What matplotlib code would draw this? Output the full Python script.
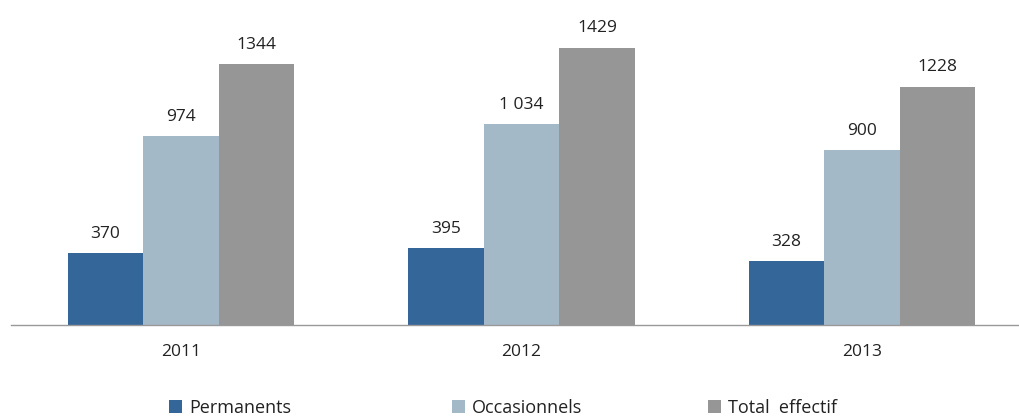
import matplotlib
matplotlib.use("Agg")
import matplotlib.pyplot as plt
import numpy as np

years = ["2011", "2012", "2013"]
series_names = ["Permanents", "Occasionnels", "Total  effectif"]
permanents = [370, 395, 328]
occasionnels = [974, 1034, 900]
total = [1344, 1429, 1228]
labels_perm = ["370", "395", "328"]
labels_occ = ["974", "1 034", "900"]
labels_tot = ["1344", "1429", "1228"]
colors = ["#346699", "#A3B9C8", "#969696"]

plt.rcParams['font.family'] = ['Open Sans', 'DejaVu Sans']

W, H = 1019, 418
fig = plt.figure(figsize=(W / 100, H / 100), dpi=100)
cat = 340.5
ax = fig.add_axes([10.75 / W, 93 / H, 3 * cat / W, (325 - 14.3) / H])

x = np.arange(len(years))
w = 0.222
data = [permanents, occasionnels, total]
labs = [labels_perm, labels_occ, labels_tot]
handles = []
for i, (vals, lab, c, name) in enumerate(zip(data, labs, colors, series_names)):
    bars = ax.bar(x + (i - 1) * w, vals, width=w, color=c, label=name)
    handles.append(bars)
    for b, t in zip(bars, lab):
        ax.annotate(t, (b.get_x() + b.get_width() / 2, b.get_height()),
                    xytext=(0, 8), textcoords="offset points",
                    ha="center", va="bottom", fontsize=12.5, color="#222222")

ax.set_xlim(-0.5, 2.5)
ax.set_ylim(0, 1600)
ax.set_yticks([])
ax.set_xticks(x)
ax.set_xticklabels(years, fontsize=12.5, color="#222222")
ax.tick_params(axis="x", length=0, pad=14)
for s in ["top", "right", "left"]:
    ax.spines[s].set_visible(False)
ax.spines["bottom"].set_color("#999999")
ax.spines["bottom"].set_linewidth(1.0)

legend_x = [169, 452, 708]
for h, name, lx in zip(handles, series_names, legend_x):
    fig.legend(handles=[h], labels=[name], loc="center left",
               bbox_to_anchor=(lx / W, 10 / H), frameon=False,
               fontsize=13, handlelength=0.7, handleheight=0.7,
               handletextpad=0.4, labelcolor="#222222", borderpad=0, borderaxespad=0)

fig.savefig("out.png", dpi=100)
